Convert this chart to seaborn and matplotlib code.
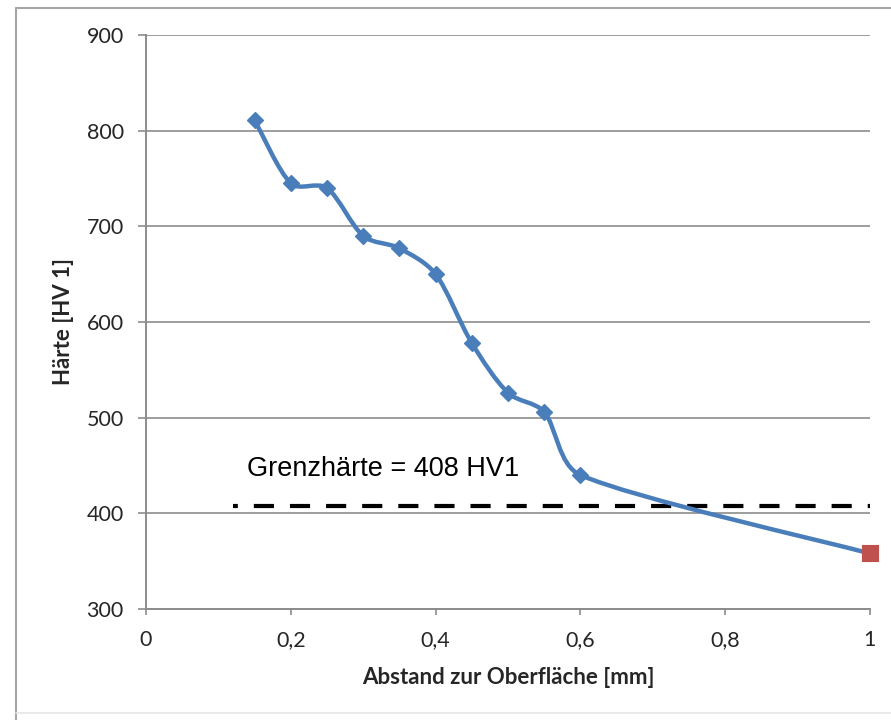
import matplotlib.pyplot as plt
import numpy as np
import pandas as pd
import seaborn as sns
from matplotlib.lines import Line2D
from matplotlib.patches import PathPatch
from matplotlib.path import Path
from matplotlib.ticker import FuncFormatter, MultipleLocator

abstand = [0.15, 0.2, 0.25, 0.3, 0.35, 0.4, 0.45, 0.5, 0.55, 0.6]
haerte = [811, 745, 740, 690, 677, 650, 578, 526, 506, 440]
kern_abstand = [1.0]
kern_haerte = [358]
grenzhaerte = 408
grenz_von, grenz_bis = 0.12, 1.0
grenz_text = "Grenzhärte = 408 HV1"

BLUE = "#4a7ebb"
RED = "#c0504d"
GRID = "#8c8c8c"
TEXT = "#262626"

sns.set_theme(style="white")
plt.rcParams["font.family"] = ["Lato", "DejaVu Sans"]
plt.rcParams["lines.scale_dashes"] = False


def smooth_path(ax, xs, ys):
    # Excel-artige Glättung: Catmull-Rom-Bezier im Bildraum, Arme begrenzt
    to_px = ax.transData
    pts = to_px.transform(np.column_stack([xs, ys]).astype(float))
    n = len(pts)
    verts = [pts[0]]
    codes = [Path.MOVETO]
    for i in range(n - 1):
        p0 = pts[max(i - 1, 0)]
        p1 = pts[i]
        p2 = pts[i + 1]
        p3 = pts[min(i + 2, n - 1)]
        seg = np.linalg.norm(p2 - p1)
        t1 = p2 - p0
        t2 = p3 - p1
        a1 = min(np.linalg.norm(t1) / 6, seg / 3)
        a2 = min(np.linalg.norm(t2) / 6, seg / 3)
        c1 = p1 + t1 / (np.linalg.norm(t1) or 1) * a1
        c2 = p2 - t2 / (np.linalg.norm(t2) or 1) * a2
        verts += [c1, c2, p2]
        codes += [Path.CURVE4] * 3
    verts = to_px.inverted().transform(np.array(verts))
    return Path(verts, codes)


df = pd.DataFrame({"abstand": abstand, "haerte": haerte})
kern = pd.DataFrame({"abstand": kern_abstand, "haerte": kern_haerte})

fig = plt.figure(figsize=(8.91, 7.2), dpi=100)
ax = fig.add_axes([0.1639, 0.1542, 0.8125, 0.7972])

ax.set_xlim(0, 1)
ax.set_ylim(300, 900)
ax.xaxis.set_major_locator(MultipleLocator(0.2))
ax.yaxis.set_major_locator(MultipleLocator(100))
ax.yaxis.grid(True, color=GRID, lw=1.2)
ax.xaxis.grid(False)
ax.set_axisbelow(True)

for side in ["top", "right"]:
    ax.spines[side].set_visible(False)
for side in ["left", "bottom"]:
    ax.spines[side].set_color(GRID)
    ax.spines[side].set_linewidth(1.4)

# Grenzhärte
ax.plot([grenz_von, grenz_bis], [grenzhaerte, grenzhaerte], color="black",
        lw=3.0, linestyle=(11.0, (14.5, 11.5)), solid_capstyle="butt", zorder=2)
ax.text(0.1395, grenzhaerte + 38, grenz_text, fontsize=19.5,
        family=["Liberation Sans", "DejaVu Sans"], color="black", va="center", ha="left")

# geglätteter Verlauf durch alle Messpunkte
curve = smooth_path(ax, abstand + kern_abstand, haerte + kern_haerte)
ax.add_patch(PathPatch(curve, facecolor="none", edgecolor=BLUE, lw=3.2,
                       capstyle="round", zorder=3, clip_on=False))

sns.scatterplot(data=df, x="abstand", y="haerte", marker="D", s=65, color=BLUE,
                edgecolor=BLUE, linewidth=1, ax=ax, zorder=4, clip_on=False)
sns.scatterplot(data=kern, x="abstand", y="haerte", marker="s", s=120, color=RED,
                edgecolor=RED, linewidth=0.8, ax=ax, zorder=5, clip_on=False)

ax.xaxis.set_major_formatter(FuncFormatter(lambda v, _: f"{v:g}".replace(".", ",")))
ax.tick_params(axis="both", which="major", direction="out", width=1.2,
               color=GRID, labelsize=15.5, labelcolor=TEXT,
               left=True, bottom=True)
ax.tick_params(axis="y", length=6, pad=10)
ax.tick_params(axis="x", length=4, pad=11)

ax.set_xlabel("Abstand zur Oberfläche [mm]", fontsize=16, fontweight="bold",
              color=TEXT)
ax.set_ylabel("Härte [HV 1]", fontsize=16, fontweight="bold", color=TEXT)
ax.xaxis.set_label_coords(0.5, -0.12)
ax.yaxis.set_label_coords(-0.1146, 0.5)
ax.xaxis.label.set_va("center")
ax.yaxis.label.set_va("center")

# Rahmen des Diagrammbereichs
fig.add_artist(Line2D([16 / 891, 1.0], [1 - 8 / 720, 1 - 8 / 720],
                      color="#a6a6a6", lw=1.5, transform=fig.transFigure))
fig.add_artist(Line2D([16 / 891, 16 / 891], [0.0, 1 - 8 / 720],
                      color="#a6a6a6", lw=1.5, transform=fig.transFigure))
fig.add_artist(Line2D([16 / 891, 1.0], [1 - 713 / 720, 1 - 713 / 720],
                      color="#e6e6e6", lw=1.2, transform=fig.transFigure))

fig.savefig("out.png", dpi=100, facecolor="white")
